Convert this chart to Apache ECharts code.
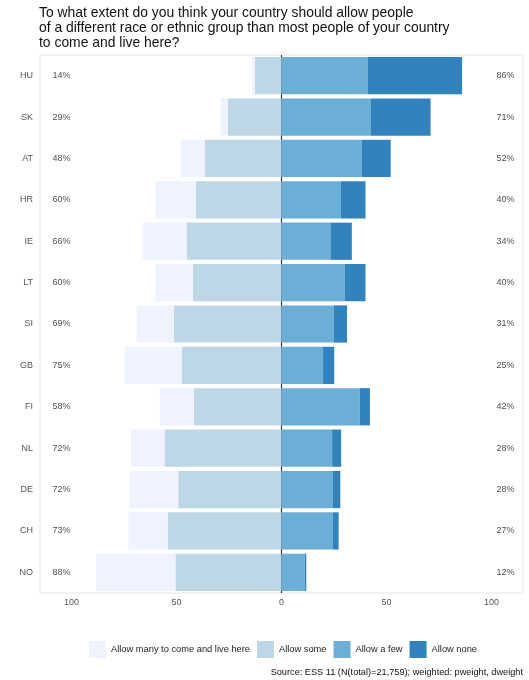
<!DOCTYPE html>
<html><head><meta charset="utf-8">
<script src="https://cdn.jsdelivr.net/npm/echarts@6/dist/echarts.min.js"></script>
<style>html,body{margin:0;padding:0;background:#fff}#c{width:529px;height:680px}</style>
</head><body><div id="c"></div>
<script>
const countries = ['HU','SK','AT','HR','IE','LT','SI','GB','FI','NL','DE','CH','NO'];
const allowMany = [1.3, 3.4, 11.5, 19.1, 20.8, 17.8, 17.8, 27.1, 16.2, 16.0, 23.2, 18.7, 37.8];
const allowSome = [12.7, 25.6, 36.5, 40.9, 45.2, 42.2, 51.2, 47.6, 41.8, 55.7, 49.2, 54.2, 50.5];
const allowFew  = [41.0, 42.6, 38.3, 28.3, 23.3, 30.2, 24.8, 19.8, 37.2, 24.1, 24.5, 24.5, 11.1];
const allowNone = [45.0, 28.4, 13.7, 11.7, 10.2, 9.8, 6.4, 5.3, 4.9, 4.3, 3.5, 2.7, 0.7];
const leftPct  = [14, 29, 48, 60, 66, 60, 69, 75, 58, 72, 72, 73, 88];
const rightPct = [86, 71, 52, 40, 34, 40, 31, 25, 42, 28, 28, 27, 12];
const xTicks = [-100, -50, 0, 50, 100];
const names = ['Allow many to come and live here','Allow some','Allow a few','Allow none'];
const colors = ['#eff3ff','#bdd7e7','#6baed6','#3182bd'];

const FONT = 'Liberation Sans, Arial, sans-serif';
const chart = echarts.init(document.getElementById('c'));
const barCommon = {type:'bar', stack:'s', barCategoryGap:'10%', z:3, emphasis:{disabled:true}};
chart.setOption({
  animation:false,
  textStyle:{fontFamily:FONT},
  title:{
    text:'To what extent do you think your country should allow people\nof a different race or ethnic group than most people of your country\nto come and live here?',
    left:34, top:1,
    textStyle:{fontSize:13.9, fontWeight:'normal', color:'#111', lineHeight:15, fontFamily:FONT}
  },
  legend:{
    data:names, bottom:17, left:84, itemWidth:17, itemHeight:17, itemGap:7,
    icon:'rect',
    textStyle:{fontSize:9.3, color:'#222', fontFamily:FONT}
  },
  graphic:[{type:'text', right:6, bottom:3, style:{text:'Source: ESS 11 (N(total)=21,759); weighted: pweight, dweight', fontSize:9.2, fill:'#111', fontFamily:FONT}}],
  grid:{left:40, right:6, top:55, bottom:87, show:true, borderColor:'#e6e6e6', borderWidth:1, containLabel:false},
  xAxis:{
    type:'value', min:-115, max:115,
    axisLine:{show:false}, axisTick:{show:false}, splitLine:{show:false},
    axisLabel:{customValues:xTicks, formatter:v=>String(Math.abs(v)), color:'#555', fontSize:9, margin:5}
  },
  yAxis:{
    type:'category', data:countries, inverse:true,
    axisLine:{show:false}, axisTick:{show:false}, splitLine:{show:false},
    axisLabel:{color:'#555', fontSize:9, margin:7}
  },
  series:[
    {...barCommon, name:names[1], data:allowSome.map(v=>-v), itemStyle:{color:colors[1]}},
    {...barCommon, name:names[0], data:allowMany.map(v=>-v), itemStyle:{color:colors[0]}},
    {...barCommon, name:names[2], data:allowFew, itemStyle:{color:colors[2]}},
    {...barCommon, name:names[3], data:allowNone, itemStyle:{color:colors[3]}},
    {type:'scatter', symbolSize:0, z:5, silent:true,
     data:countries.map((c,i)=>({value:[-109, c], label:{formatter:leftPct[i]+'%'}})),
     label:{show:true, position:'right', distance:0, color:'#222', fontSize:9}},
    {type:'scatter', symbolSize:0, z:5, silent:true,
     data:countries.map((c,i)=>({value:[111, c], label:{formatter:rightPct[i]+'%'}})),
     label:{show:true, position:'left', distance:0, color:'#222', fontSize:9},
     markLine:{silent:true, symbol:'none', z:1, label:{show:false}, lineStyle:{color:'#333', width:1.2, type:'solid'}, data:[{xAxis:0}]}}
  ]
});
</script></body></html>
